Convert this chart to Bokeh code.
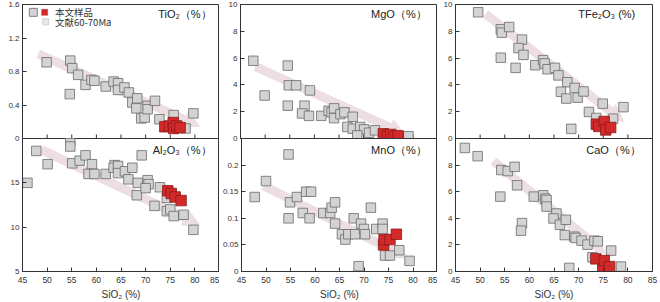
import math
from bokeh.plotting import figure
from bokeh.layouts import column, row
from bokeh.models import Range1d, FixedTicker, Arrow, NormalHead, Label
from bokeh.embed import file_html
from bokeh.resources import INLINE

# ---------------- data ----------------
x_ticks = [45, 50, 55, 60, 65, 70, 75, 80, 85]
x_tick_labels = ["45", "50", "55", "60", "65", "70", "75", "80", "85"]
x_title = "SiO₂ (%)"
legend_labels = ["本文样品", "文献60-70Ma"]

# TiO2
tio2_lit_sio2 = [49.9, 54.7, 55.1, 54.6, 56.3, 57.8, 59.0, 59.6, 61.9, 63.5, 64.4, 64.4, 65.7,
                 66.6, 67.3, 68.3, 68.1, 69.1, 69.8, 70.4, 70.4, 71.9, 72.8, 75.7, 79.7, 78.1]
tio2_lit = [0.91, 0.93, 0.84, 0.53, 0.76, 0.64, 0.70, 0.69, 0.62, 0.68, 0.66, 0.58, 0.61,
            0.55, 0.43, 0.48, 0.36, 0.24, 0.25, 0.39, 0.35, 0.45, 0.23, 0.28, 0.30, 0.12]
tio2_smp_sio2 = [73.9, 74.8, 75.6, 75.7, 76.3, 77.0]
tio2_smp = [0.14, 0.15, 0.19, 0.12, 0.15, 0.13]
tio2_ticks = [0, 0.4, 0.8, 1.2, 1.6]
tio2_tick_labels = ["0", "0.4", "0.8", "1.2", "1.6"]
tio2_trend = [48.2, 1.01, 81.2, 0.14]

# Al2O3
al2o3_lit_sio2 = [46.0, 47.8, 50.1, 54.7, 54.7, 55.1, 56.6, 57.8, 59.1, 58.4, 59.6, 61.9, 63.7,
                  63.5, 64.4, 64.4, 65.8, 67.3, 66.5, 69.2, 68.4, 68.2, 70.4, 70.6, 70.0, 71.8,
                  72.9, 74.3, 74.3, 75.0, 75.7, 77.7, 79.7]
al2o3_lit = [15.0, 18.6, 17.1, 19.7, 19.1, 17.2, 17.5, 18.1, 17.1, 16.0, 16.0, 16.0, 17.0,
             16.7, 16.9, 16.1, 16.3, 16.7, 15.4, 18.1, 15.0, 13.6, 15.3, 14.85, 14.4, 12.4,
             14.5, 13.3, 11.8, 12.0, 11.25, 11.4, 9.7]
al2o3_smp_sio2 = [74.5, 75.2, 76.0, 77.2]
al2o3_smp = [14.1, 13.8, 13.4, 13.0]
al2o3_ticks = [5, 10, 15]
al2o3_tick_labels = ["5", "10", "15"]
al2o3_trend = [48.8, 18.75, 81.2, 10.2]

# MgO
mgo_lit_sio2 = [47.6, 49.9, 54.6, 54.8, 56.3, 54.6, 58.0, 57.5, 58.9, 59.1, 61.4, 62.9, 63.5,
                64.0, 64.0, 65.3, 66.1, 67.8, 66.7, 67.8, 69.3, 70.1, 68.7, 71.1, 72.3, 74.2, 79.1]
mgo_lit = [5.80, 3.21, 5.44, 3.97, 3.97, 2.45, 2.45, 1.87, 1.69, 3.59, 1.69, 2.07, 1.95,
           2.25, 1.52, 1.82, 1.95, 1.62, 0.86, 0.73, 0.86, 0.68, 0.23, 0.43, 0.61, 0.30, 0.17]
mgo_smp_sio2 = [74.0, 74.8, 75.5, 76.2, 77.0]
mgo_smp = [0.35, 0.20, 0.30, 0.15, 0.20]
mgo_ticks = [0, 2, 4, 6, 8, 10]
mgo_tick_labels = ["0", "2", "4", "6", "8", "10"]
mgo_trend = [48.0, 5.37, 78.6, 0.30]

# MnO
mno_lit_sio2 = [47.7, 50.0, 54.6, 54.9, 54.6, 56.3, 58.2, 59.2, 57.5, 58.9, 61.7, 63.1, 63.4,
                64.1, 64.1, 65.5, 66.2, 66.8, 67.9, 68.2, 69.4, 70.0, 70.2, 68.9, 71.4, 72.5,
                73.8, 73.8, 74.3, 75.3, 77.2, 79.3]
mno_lit = [0.14, 0.17, 0.22, 0.13, 0.10, 0.14, 0.15, 0.15, 0.11, 0.10, 0.11, 0.11, 0.12,
           0.13, 0.09, 0.07, 0.06, 0.07, 0.10, 0.07, 0.09, 0.08, 0.07, 0.01, 0.12, 0.08,
           0.09, 0.08, 0.03, 0.03, 0.04, 0.02]
mno_smp_sio2 = [74.0, 74.1, 75.3, 76.6]
mno_smp = [0.05, 0.06, 0.06, 0.07]
mno_ticks = [0, 0.05, 0.1, 0.15, 0.2]
mno_tick_labels = ["0", "0.05", "0.1", "0.15", "0.2"]
mno_trend = [49.5, 0.161, 79.1, 0.025]

# TFe2O3
tfe_lit_sio2 = [49.6, 54.2, 54.4, 55.9, 54.2, 58.5, 57.8, 58.8, 57.2, 61.2, 62.8, 63.1, 63.7,
                65.2, 65.9, 67.7, 66.4, 67.5, 69.2, 69.8, 71.0, 68.5, 72.1, 73.6, 74.9, 77.0, 79.1]
tfe_lit = [9.42, 8.15, 7.90, 8.32, 6.03, 7.38, 6.75, 6.24, 5.27, 5.47, 5.85, 5.60, 5.17,
           5.27, 4.71, 4.20, 3.49, 2.98, 3.77, 3.05, 3.51, 0.72, 1.98, 1.53, 2.60, 1.48, 2.34]
tfe_smp_sio2 = [73.6, 74.1, 75.2, 75.5, 76.5]
tfe_smp = [1.07, 0.90, 1.27, 0.64, 0.82]
tfe_ticks = [0, 2, 4, 6, 8, 10]
tfe_tick_labels = ["0", "2", "4", "6", "8", "10"]
tfe_trend = [51.1, 9.29, 79.3, 1.22]

# CaO
cao_lit_sio2 = [46.9, 49.5, 54.3, 55.6, 57.0, 57.5, 54.1, 60.9, 62.8, 63.2, 63.5, 63.5, 65.5,
                64.9, 66.2, 67.4, 58.5, 58.3, 67.2, 69.1, 69.4, 70.6, 71.8, 73.2, 73.9, 76.6,
                68.1, 78.6, 72.8]
cao_lit = [9.29, 8.67, 7.63, 7.55, 7.87, 6.48, 5.63, 5.63, 5.73, 5.48, 5.38, 4.88, 4.36,
           3.99, 3.51, 3.89, 3.64, 3.07, 2.74, 2.62, 2.52, 2.32, 2.02, 2.32, 2.27, 1.57,
           0.27, 0.37, 1.07]
cao_smp_sio2 = [73.5, 74.9, 75.2, 76.3]
cao_smp = [0.95, 0.20, 0.82, 0.37]
cao_ticks = [0, 2, 4, 6, 8]
cao_tick_labels = ["0", "2", "4", "6", "8"]
cao_trend = [52.7, 8.3, 75.6, 1.32]

# ---------------- styles ----------------
LIT_FILL = "#d3d3d3"
LIT_LINE = "#6a6a6a"
SMP_FILL = "#d22a2a"
SMP_LINE = "#8e1b1b"
ARROW_C = "#eddee2"
AXC = "#333333"
FONT = "Liberation Sans"

# column geometry: (width, border_left, border_right)
COLS = [(219, 22, 0), (218, 21, 0), (223, 18, 8)]


def panel(col, top, ylim, yticks, ylabels, lit_x, lit_y, smp_x, smp_y, trend, head,
          title, title_pos):
    w, bl, br = COLS[col]
    if top:
        h, bt, bb = 144, 4, 6
    else:
        h, bt, bb = 164, 0, 31
    kw = dict(width=w, height=h, x_range=Range1d(45, 85), y_range=Range1d(*ylim),
              output_backend="svg", toolbar_location=None,
              min_border_left=bl, min_border_right=br, min_border_top=bt, min_border_bottom=bb)
    if top:
        kw["margin"] = (0, 0, -6, 0)
        kw["x_axis_location"] = None
    p = figure(**kw)
    if not top:
        p.border_fill_alpha = 0
        p.background_fill_alpha = 0
    p.xgrid.visible = False
    p.ygrid.visible = False
    p.outline_line_color = AXC
    p.outline_line_alpha = 1
    p.outline_line_width = 1

    axes = [p.yaxis[0]] + ([] if top else [p.xaxis[0]])
    for ax in axes:
        ax.axis_line_color = AXC
        ax.major_tick_line_color = AXC
        ax.major_tick_in = 4
        ax.major_tick_out = 0
        ax.minor_tick_line_color = None
        ax.major_label_text_color = AXC
        ax.major_label_text_font = FONT

    if top:
        # inward tick marks on the shared bottom edge (no labels in upper panels)
        p.scatter(x_ticks, [ylim[0]] * len(x_ticks), marker="dash", angle=math.pi / 2,
                  size=8, line_color=AXC, line_width=1)
    else:
        xa = p.xaxis[0]
        xa.ticker = FixedTicker(ticks=x_ticks)
        xa.major_label_overrides = {t: l for t, l in zip(x_ticks, x_tick_labels)}
        xa.major_label_text_font_size = "8.5px"
        xa.major_label_standoff = 5
        xa.axis_label = x_title
        xa.axis_label_text_font = FONT
        xa.axis_label_text_font_size = "10px"
        xa.axis_label_text_font_style = "normal"
        xa.axis_label_text_color = AXC
        xa.axis_label_standoff = 3

    ya = p.yaxis[0]
    ya.ticker = FixedTicker(ticks=yticks)
    ya.major_label_overrides = {t: l for t, l in zip(yticks, ylabels)}
    ya.major_label_text_font_size = "8px"
    ya.major_label_standoff = 3

    c = ARROW_C
    p.add_layout(Arrow(end=NormalHead(size=head, fill_color=c, line_color=c, line_width=0),
                       x_start=trend[0], y_start=trend[1], x_end=trend[2], y_end=trend[3],
                       line_color=c, line_width=9, level="underlay"))

    p.scatter(lit_x, lit_y, marker="square", size=9.5, fill_color=LIT_FILL,
              line_color=LIT_LINE, line_width=0.8)
    p.scatter(smp_x, smp_y, marker="square", size=10.5, fill_color=SMP_FILL,
              line_color=SMP_LINE, line_width=0.8)

    p.add_layout(Label(x=title_pos[0], y=title_pos[1], text=title, text_align="right",
                       text_baseline="middle", text_font=FONT, text_font_size="11px",
                       text_color="#222222"))
    return p


p_ti = panel(0, True, (0, 1.6), tio2_ticks, tio2_tick_labels, tio2_lit_sio2, tio2_lit,
             tio2_smp_sio2, tio2_smp, tio2_trend, 18, "TiO₂（%）", (83.4, 1.49))
p_al = panel(0, False, (5, 20), al2o3_ticks, al2o3_tick_labels, al2o3_lit_sio2, al2o3_lit,
             al2o3_smp_sio2, al2o3_smp, al2o3_trend, 18, "Al₂O₃（%）", (83.4, 18.67))
p_mg = panel(1, True, (0, 10), mgo_ticks, mgo_tick_labels, mgo_lit_sio2, mgo_lit,
             mgo_smp_sio2, mgo_smp, mgo_trend, 18, "MgO（%）", (82.8, 9.29))
p_mn = panel(1, False, (0, 0.25), mno_ticks, mno_tick_labels, mno_lit_sio2, mno_lit,
             mno_smp_sio2, mno_smp, mno_trend, 11, "MnO（%）", (82.8, 0.2285))
p_fe = panel(2, True, (0, 10), tfe_ticks, tfe_tick_labels, tfe_lit_sio2, tfe_lit,
             tfe_smp_sio2, tfe_smp, tfe_trend, 18, "TFe₂O₃ (%)", (81.5, 9.29))
p_ca = panel(2, False, (0, 10), cao_ticks, cao_tick_labels, cao_lit_sio2, cao_lit,
             cao_smp_sio2, cao_smp, cao_trend, 11, "CaO（%）", (82.6, 9.17))

# legend (top-left panel)
p_ti.scatter([47.2], [1.506], marker="square", size=8, fill_color=LIT_FILL,
             line_color=LIT_LINE, line_width=0.8)
p_ti.scatter([49.5], [1.506], marker="square", size=6, fill_color=SMP_FILL,
             line_color=SMP_FILL, line_width=0.5)
p_ti.scatter([49.7], [1.393], marker="square", size=6, fill_color="#e8e8e8",
             line_color="#bdbdbd", line_width=0.6)
for lab, yy in zip(legend_labels, [1.506, 1.393]):
    p_ti.add_layout(Label(x=51.6, y=yy, text=lab, text_align="left", text_baseline="middle",
                          text_font="Noto Sans CJK SC", text_font_size="9.5px",
                          text_color="#333333"))

layout = column(row(p_ti, p_mg, p_fe), row(p_al, p_mn, p_ca))

open("out.html", "w").write(file_html(layout, INLINE))
